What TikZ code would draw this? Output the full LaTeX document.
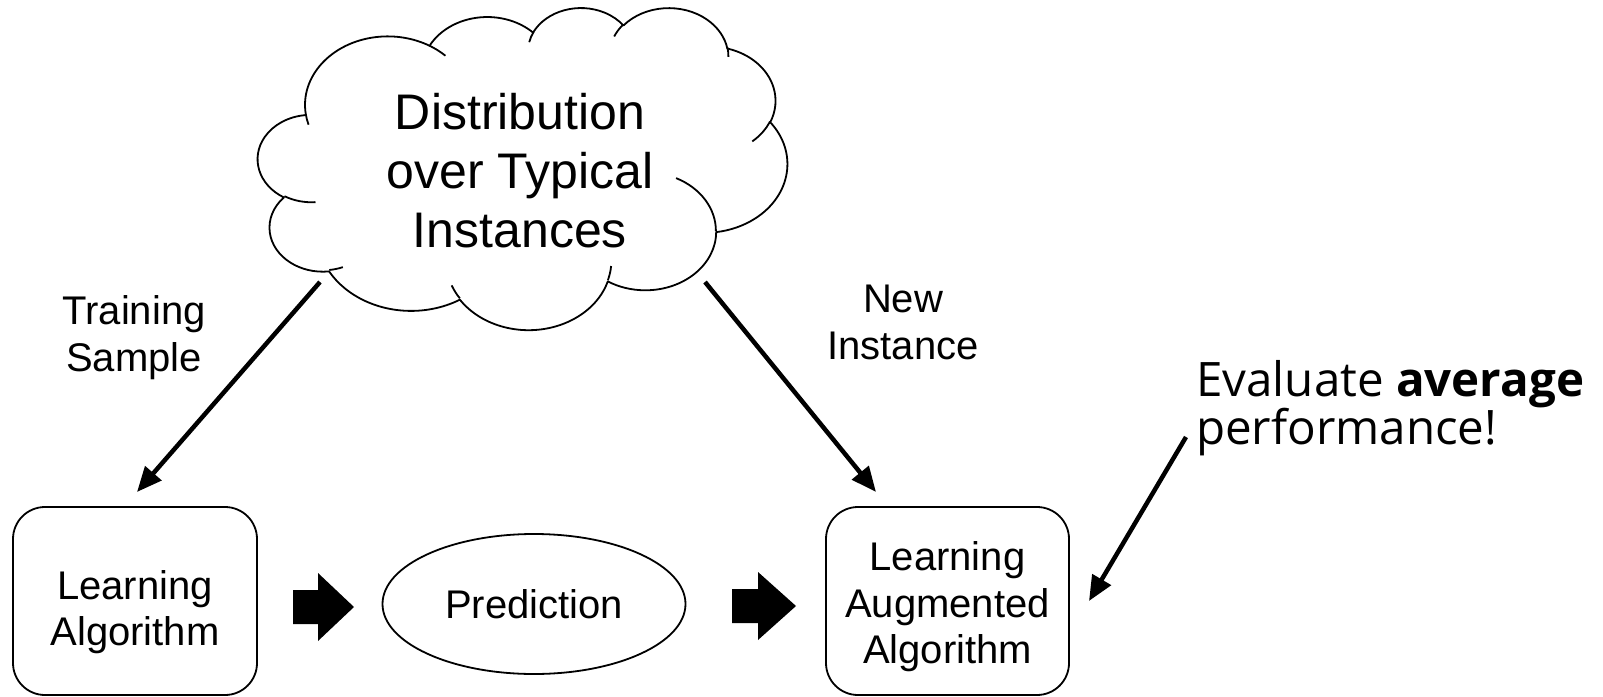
\documentclass[tikz,border=0pt]{standalone}
\usepackage{fontspec}
\setmainfont{Liberation Sans}
\newfontfamily\evalfont{Open Sans}
\usetikzlibrary{arrows.meta,shapes.geometric}

\newcommand\cldarc[4]{arc[x radius=#1, y radius=#2, start angle={atan2(#1*sin(#3),#2*cos(#3))}, delta angle={mod(atan2(#1*sin(#3+#4),#2*cos(#3+#4))-atan2(#1*sin(#3),#2*cos(#3))+720,360)}]}

\begin{document}
\begin{tikzpicture}[x=1pt,y=-1pt,line join=round,
  box/.style={draw, line width=1.8pt, rounded corners=32pt, minimum width=244pt, minimum height=188pt, inner sep=0pt, align=center, font=\fontsize{40}{46.5}\selectfont},
  lbl/.style={inner sep=0pt, align=center, font=\fontsize{40}{47}\selectfont},
  conn/.style={line width=4.5pt, -{Triangle[length=25pt,width=21pt]}},
  blockarrow/.style={fill=black}]
\useasboundingbox (0,0) rectangle (1603,696);

% cloud
\begin{scope}[shift={(258,7)}, x=0.1225pt, y=-0.07454pt, line width=1.8pt]
\draw[fill=white] (390,1437)
  \cldarc{675.3}{919.0}{-190.4875}{123.7805}
  \cldarc{533.3}{726.7}{-144.1024}{89.9452}
  \cldarc{436.5}{594.5}{-145.8079}{99.7230}
  \cldarc{485.7}{659.5}{-130.9861}{117.2417}
  \cldarc{533.3}{727.3}{-78.7089}{109.0269}
  \cldarc{677.5}{922.0}{-46.2673}{130.2690}
  \cldarc{578.5}{786.7}{0.6250}{114.0333}
  \cldarc{675.2}{921.5}{22.4516}{115.1726}
  \cldarc{772.0}{1054.3}{66.2426}{75.7110}
  \cldarc{436.0}{591.8}{-274.9421}{146.7356}
  \cldarc{434.5}{594.5}{-246.8285}{152.5189}
  -- cycle;
\draw
  (469.3,2617.7) \cldarc{434.5}{594.5}{86.7420}{26.4295}
  (692.8,3489.9) \cldarc{436.0}{591.8}{73.6105}{11.4475}
  (1647.8,3909.0) \cldarc{675.2}{921.5}{137.6242}{14.0811}
  (2882.7,3475.1) \cldarc{675.2}{921.5}{6.4533}{15.9984}
  (3412.9,2295.4) \cldarc{578.5}{786.7}{-70.2924}{70.9174}
  (4179.8,1535.4) \cldarc{533.3}{727.3}{30.3180}{27.7515}
  (3832.4,542.6) \cldarc{485.7}{659.5}{-13.7443}{14.8589}
  (2907.8,395.2) \cldarc{485.7}{659.5}{-149.1815}{18.1954}
  (2214.1,472.0) \cldarc{436.5}{594.5}{-163.4943}{17.6864}
  (1400.0,519.2) \cldarc{675.3}{919.0}{-66.7070}{12.3194}
  (412.7,1578.9) \cldarc{675.3}{919.0}{157.6544}{11.8582};
\end{scope}

\node[inner sep=0pt, align=center, font=\fontsize{50}{59}\selectfont] (dist) at (520,171) {Distribution\\over Typical\\Instances};

% boxes
\node[box] (la) at (135,601) {\rule{0pt}{51pt}Learning\\Algorithm};
\node[box, minimum width=243pt] (laa) at (947.5,601) {\rule{0pt}{40.6pt}Learning\\Augmented\\Algorithm};
\node[draw, ellipse, line width=1.8pt, minimum width=303pt, minimum height=140pt, inner sep=0pt, font=\fontsize{40}{46}\selectfont] (pred) at (534,604) {Prediction};

% labels
\node[lbl] (train) at (134,338) {Training\\Sample};
\node[lbl] (new) at (903,322) {New\\Instance};
\node[inner sep=0pt, align=left, anchor=west, font=\evalfont\fontsize{47.5}{48}\selectfont] (eval) at (1196,408) {Evaluate \textbf{average}\\performance!};

% connector end points
\coordinate (t1) at (320,282); \coordinate (t2) at (137,492);
\coordinate (n1) at (705,282); \coordinate (n2) at (876,492);
\coordinate (e1) at (1186,437); \coordinate (e2) at (1089,601);

\draw[conn] (t1) -- (t2);
\draw[conn] (n1) -- (n2);
\draw[conn] (e1) -- (e2);

% block arrows
\fill[blockarrow] (293,590) -- (318,590) -- (318,573) -- (354,607) -- (318,641) -- (318,624) -- (293,624) -- cycle;
\fill[blockarrow] (732,589) -- (758,589) -- (758,572) -- (796,606) -- (758,640) -- (758,623) -- (732,623) -- cycle;
\end{tikzpicture}
\end{document}
